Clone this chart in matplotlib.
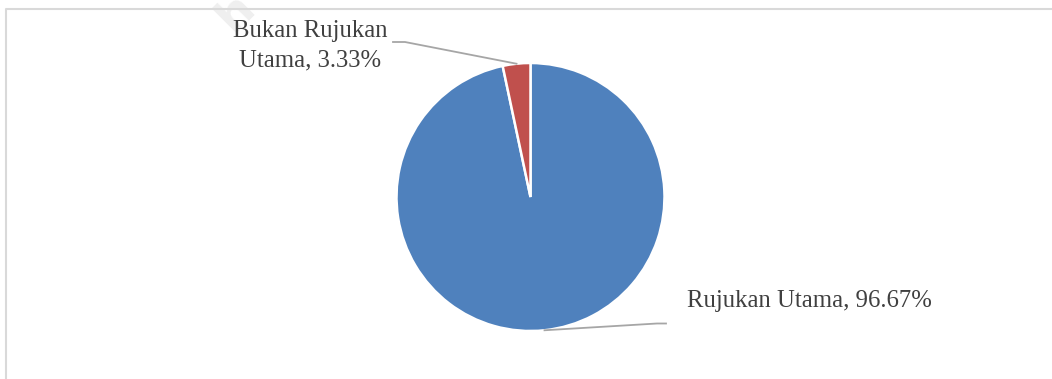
import numpy as np
import matplotlib
matplotlib.use('Agg')
import matplotlib.pyplot as plt

# share of references
labels = ['Rujukan Utama', 'Bukan Rujukan\nUtama']
values = [96.67, 3.33]
colors = ['#4F81BD', '#C0504D']

W, H = 1052, 379
fig = plt.figure(figsize=(W / 100, H / 100), dpi=100)
ax = fig.add_axes([0, 0, 1, 1])

cx, cy, r = 530.5, H - 197, 134
wedges, _ = ax.pie(values, colors=colors, startangle=90, counterclock=False,
                   center=(cx, cy), radius=r, frame=True,
                   wedgeprops=dict(edgecolor='white', linewidth=1.8))
ax.set_xlim(0, W)
ax.set_ylim(0, H)
ax.set_aspect('equal')
ax.axis('off')

# chart frame (cut off at right and bottom)
ax.plot([6, 6, W], [0, H - 9, H - 9], color='#d9d9d9', lw=1.5, solid_capstyle='butt')

# faint watermark
ax.text(236, H - 12, 'h', rotation=45, fontsize=34, fontweight='bold',
        color='#efefef', family='DejaVu Sans', ha='center', va='center', zorder=0)

font = dict(family='Liberation Serif', fontsize=17.8, color='#404040')
lead = dict(color='#a6a6a6', lw=1.3)

# label positions and leader elbows (pixel coords, y from top)
text_pos = [(687, 301), (310, 46)]
elbows = [[(657, 323.5), (666, 323.5)], [(405, 42), (393, 42)]]
aligns = ['left', 'center']

for w, lab, val, tp, elb, ha in zip(wedges, labels, values, text_pos, elbows, aligns):
    mid = np.deg2rad((w.theta1 + w.theta2) / 2)
    px, py = cx + r * np.cos(mid), cy + r * np.sin(mid)
    xs = [px] + [e[0] for e in elb]
    ys = [py] + [H - e[1] for e in elb]
    ax.plot(xs, ys, **lead)
    ax.text(tp[0], H - tp[1], f'{lab}, {val:.2f}%', ha=ha, va='center',
            linespacing=1.45, **font)

fig.savefig('out.png', dpi=100)
